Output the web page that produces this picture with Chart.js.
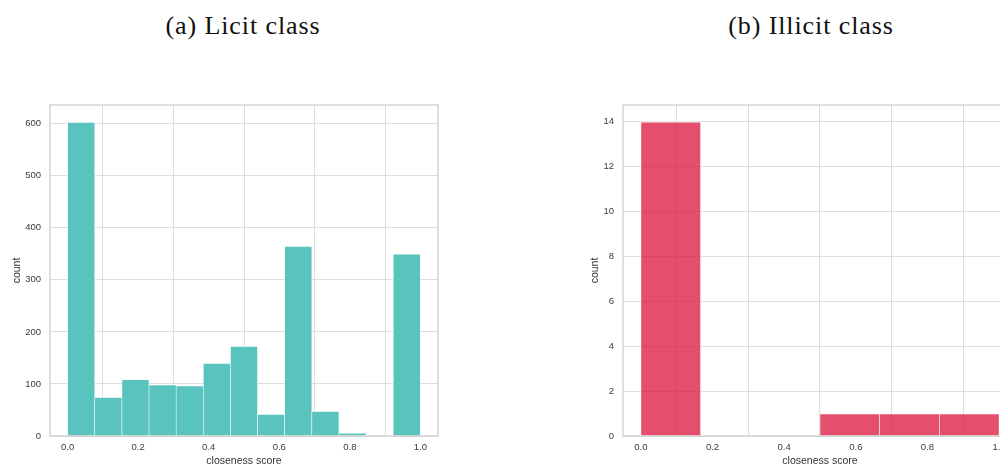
<!DOCTYPE html>
<html>
<head>
<meta charset="utf-8">
<script src="https://cdn.jsdelivr.net/npm/chart.js@4.4.1/dist/chart.umd.min.js"></script>
<style>
  html, body { margin: 0; padding: 0; background: #fff; overflow: hidden; width: 1000px; height: 464px; }
  .panel { position: absolute; top: 0; }
  .title {
    position: absolute; top: 11px; transform: translateX(-50%);
    font-family: "Liberation Serif", "Times New Roman", serif;
    font-size: 26px; letter-spacing: 0.9px; color: #111; white-space: nowrap;
  }
</style>
</head>
<body>
<div class="title" style="left:243px">(a) Licit class</div>
<div class="title" style="left:811px">(b) Illicit class</div>
<div class="panel" style="left:0px"><canvas id="licit" width="460" height="467"></canvas></div>
<div class="panel" style="left:579px"><canvas id="illicit" width="460" height="467"></canvas></div>
<script>
// Histogram counts per bin, bins spanning [0, 1] evenly
const licitCounts   = [603, 75, 109, 99, 97, 140, 173, 42, 365, 48, 6, 0, 350];
const illicitCounts = [14, 0, 0, 1, 1, 1];

// Tick positions
const xTicks        = [0, 0.2, 0.4, 0.6, 0.8, 1.0];
const licitYTicks   = [0, 100, 200, 300, 400, 500, 600];
const illicitYTicks = [0, 2, 4, 6, 8, 10, 12, 14];

const xLabel = 'closeness score';
const yLabel = 'count';

const GRID = '#dddddd';
const FRAME = '#cfcfcf';
const TICK_FONT = { family: '"Liberation Sans", Arial, sans-serif', size: 9.5 };
const TITLE_FONT = { family: '"Liberation Sans", Arial, sans-serif', size: 10.5 };

// Axes frame around the plot area (all four sides)
const framePlugin = {
  id: 'frame',
  afterDatasetsDraw(chart) {
    const a = chart.chartArea, ctx = chart.ctx;
    ctx.save();
    ctx.strokeStyle = FRAME;
    ctx.lineWidth = 1.3;
    ctx.strokeRect(a.left, a.top, a.right - a.left, a.bottom - a.top);
    ctx.restore();
  }
};

function histogram(canvasId, counts, yTicks, yMax, color, yAxisWidth, yTitlePad) {
  const n = counts.length;
  const points = counts.map((c, i) => ({ x: (i + 0.5) / n, y: c }));
  return new Chart(document.getElementById(canvasId), {
    type: 'bar',
    data: {
      datasets: [{
        data: points,
        backgroundColor: color,
        borderColor: 'rgba(255,255,255,0.9)',
        borderWidth: { top: 1, left: 0.6, right: 0.6, bottom: 0 },
        borderSkipped: false,
        barPercentage: 1,
        categoryPercentage: 1
      }]
    },
    options: {
      responsive: false,
      devicePixelRatio: 1,
      animation: false,
      layout: { padding: { top: 105, right: 22, bottom: 0, left: 0 } },
      plugins: { legend: { display: false }, tooltip: { enabled: false } },
      scales: {
        x: {
          type: 'linear',
          min: -0.05, max: 1.05,
          offset: false,
          afterBuildTicks: s => { s.ticks = xTicks.map(v => ({ value: v })); },
          afterFit: s => { s.height = 31; },
          grid: { color: GRID, lineWidth: 1, drawTicks: false },
          border: { display: false },
          ticks: { font: TICK_FONT, color: '#3a3a3a', padding: 6, maxRotation: 0,
                   callback: v => v.toFixed(1) },
          title: { display: true, text: xLabel, font: TITLE_FONT, color: '#333', padding: 0 }
        },
        y: {
          min: 0, max: yMax,
          afterBuildTicks: s => { s.ticks = yTicks.map(v => ({ value: v })); },
          afterFit: s => { s.width = yAxisWidth; },
          grid: { color: GRID, lineWidth: 1, drawTicks: false },
          border: { display: false },
          ticks: { font: TICK_FONT, color: '#3a3a3a', padding: 9 },
          title: { display: true, text: yLabel, font: TITLE_FONT, color: '#333', padding: yTitlePad }
        }
      }
    },
    plugins: [framePlugin]
  });
}

histogram('licit', licitCounts, licitYTicks, 636, '#59c4bd', 50, 11);
histogram('illicit', illicitCounts, illicitYTicks, 14.75, 'rgba(220,20,60,0.75)', 44, 10);
</script>
</body>
</html>
